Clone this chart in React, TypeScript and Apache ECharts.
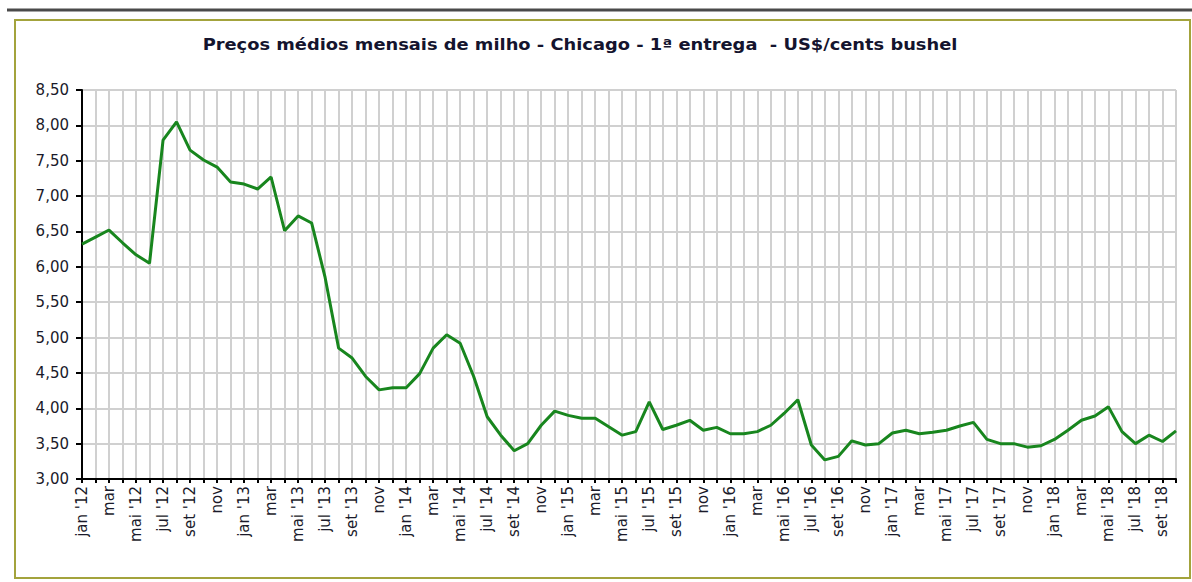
import React, { useEffect, useRef } from "react";
import * as echarts from "echarts";

const TITLE = "Preços médios mensais de milho - Chicago - 1ª entrega  - US$/cents bushel";

const categories = [
  "jan '12", "fev '12", "mar '12", "abr '12", "mai '12", "jun '12", "jul '12", "ago '12", "set '12", "out '12", "nov '12", "dez '12",
  "jan '13", "fev '13", "mar '13", "abr '13", "mai '13", "jun '13", "jul '13", "ago '13", "set '13", "out '13", "nov '13", "dez '13",
  "jan '14", "fev '14", "mar '14", "abr '14", "mai '14", "jun '14", "jul '14", "ago '14", "set '14", "out '14", "nov '14", "dez '14",
  "jan '15", "fev '15", "mar '15", "abr '15", "mai '15", "jun '15", "jul '15", "ago '15", "set '15", "out '15", "nov '15", "dez '15",
  "jan '16", "fev '16", "mar '16", "abr '16", "mai '16", "jun '16", "jul '16", "ago '16", "set '16", "out '16", "nov '16", "dez '16",
  "jan '17", "fev '17", "mar '17", "abr '17", "mai '17", "jun '17", "jul '17", "ago '17", "set '17", "out '17", "nov '17", "dez '17",
  "jan '18", "fev '18", "mar '18", "abr '18", "mai '18", "jun '18", "jul '18", "ago '18", "set '18", "out '18",
];

const prices = [
  6.32, 6.42, 6.52, 6.34, 6.17, 6.05, 7.79, 8.05, 7.65, 7.51, 7.41, 7.20,
  7.17, 7.10, 7.27, 6.51, 6.72, 6.62, 5.85, 4.85, 4.71, 4.45, 4.26, 4.29,
  4.29, 4.49, 4.85, 5.04, 4.92, 4.45, 3.88, 3.62, 3.40, 3.50, 3.76, 3.96,
  3.90, 3.86, 3.86, 3.74, 3.62, 3.67, 4.09, 3.70, 3.76, 3.83, 3.69, 3.73,
  3.64, 3.64, 3.67, 3.76, 3.93, 4.12, 3.48, 3.27, 3.32, 3.54, 3.48, 3.50,
  3.65, 3.69, 3.64, 3.66, 3.69, 3.75, 3.80, 3.56, 3.50, 3.50, 3.45, 3.47,
  3.56, 3.69, 3.83, 3.89, 4.02, 3.67, 3.50, 3.62, 3.53, 3.68,
];

const Y_MIN = 3;
const Y_MAX = 8.5;
const Y_STEP = 0.5;

export default function App() {
  const ref = useRef<HTMLDivElement>(null);

  useEffect(() => {
    if (!ref.current) return;
    const chart = echarts.init(ref.current, undefined, { renderer: "svg" });
    chart.setOption({
      animation: false,
      backgroundColor: "#ffffff",
      graphic: [
        {
          type: "line",
          shape: { x1: 7, y1: 10, x2: 1192, y2: 10 },
          style: { stroke: "#4a4a4a", lineWidth: 3 },
        },
        {
          type: "rect",
          shape: { x: 15, y: 20, width: 1175, height: 558 },
          style: { fill: "none", stroke: "#a3a33c", lineWidth: 2 },
        },
        {
          type: "text",
          x: 580,
          y: 45,
          scaleX: 1.19,
          style: {
            text: TITLE,
            fontFamily: "DejaVu Sans",
            fontWeight: "bold",
            fontSize: 15,
            fill: "#14142e",
            textAlign: "center",
            textVerticalAlign: "middle",
          },
        },
      ],
      grid: { left: 82, top: 90, right: 16, bottom: 103 },
      xAxis: {
        type: "category",
        data: categories,
        boundaryGap: false,
        axisLine: { lineStyle: { color: "#000", width: 2 } },
        axisTick: { interval: 0, length: 4, lineStyle: { color: "#000", width: 2 } },
        axisLabel: {
          interval: 1,
          rotate: 90,
          margin: 7,
          fontFamily: "DejaVu Sans",
          fontSize: 15,
          color: "#1a1a2a",
          formatter: (v: string) =>
            v.startsWith("mar") || v.startsWith("nov") ? v.slice(0, 3) : v,
        },
        splitLine: {
          show: true,
          interval: 0,
          lineStyle: { color: "#d0d0d0", width: 2 },
        },
      },
      yAxis: {
        type: "value",
        min: Y_MIN,
        max: Y_MAX,
        interval: Y_STEP,
        axisLine: { show: true, lineStyle: { color: "#000", width: 2 } },
        axisTick: { show: true, length: 6, lineStyle: { color: "#000", width: 2 } },
        axisLabel: {
          margin: 13,
          fontFamily: "DejaVu Sans",
          fontSize: 15,
          color: "#1a1a2a",
          formatter: (v: number) => v.toFixed(2).replace(".", ","),
        },
        splitLine: { show: true, lineStyle: { color: "#d0d0d0", width: 2 } },
      },
      series: [
        {
          type: "line",
          data: prices,
          symbol: "none",
          lineStyle: { color: "#18861e", width: 3 },
        },
      ],
    });
    return () => chart.dispose();
  }, []);

  return (
    <div
      ref={ref}
      style={{ position: "fixed", left: 0, top: 0, width: 1192, height: 582 }}
    />
  );
}
